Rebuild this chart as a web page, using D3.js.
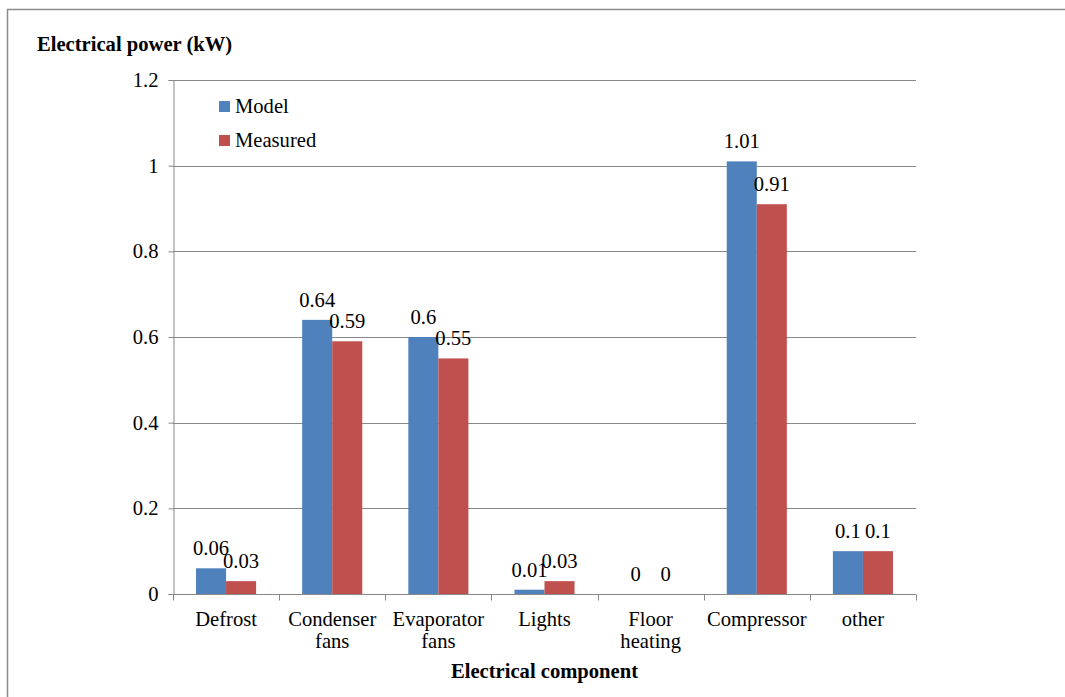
<!DOCTYPE html>
<html><head><meta charset="utf-8">
<script src="https://cdn.jsdelivr.net/npm/d3@7"></script>
<style>body{margin:0;background:#fff}svg{display:block}svg text{font-family:"Liberation Serif","Times New Roman",serif !important}</style>
</head><body>
<script>
const categories = [["Defrost"],["Condenser","fans"],["Evaporator","fans"],["Lights"],["Floor","heating"],["Compressor"],["other"]];
const seriesNames = ["Model","Measured"];
const modelValues = [0.06,0.64,0.6,0.01,0,1.01,0.1];
const measuredValues = [0.03,0.59,0.55,0.03,0,0.91,0.1];
const yTicks = [0,0.2,0.4,0.6,0.8,1,1.2];
const colors = ["#4F81BD","#C0504D"];

const FS=20.6;
const W=1065,H=697;
const svg=d3.select("body").append("svg").attr("width",W).attr("height",H);
// frame
svg.append("path").attr("d","M7.5,697 L7.5,9.5 L1065,9.5").attr("fill","none").attr("stroke","#8c8c8c").attr("stroke-width",1.5);

const L=173,R=916,T=80,B=594;
const x=d3.scaleBand().domain(d3.range(categories.length)).range([L,R]).paddingInner(0.434).paddingOuter(0.217);
const y=d3.scaleLinear().domain([0,1.2]).range([B,T]);
const x1=d3.scaleBand().domain([0,1]).range([0,x.bandwidth()]);

// gridlines
svg.append("g").selectAll("line").data(yTicks.filter(d=>d>0)).join("line")
 .attr("x1",L).attr("x2",R).attr("y1",d=>Math.round(y(d))+0.5).attr("y2",d=>Math.round(y(d))+0.5)
 .attr("stroke","#888").attr("stroke-width",1);

// y axis
const ya=svg.append("g").attr("transform",`translate(${L+0.5},0)`)
 .call(d3.axisLeft(y).tickValues(yTicks).tickSize(5).tickPadding(10).tickFormat(d=>String(+d.toFixed(1))));
ya.attr("font-family",null);
ya.select(".domain").attr("stroke","#888");
ya.selectAll(".tick line").attr("stroke","#888");
ya.selectAll("text").attr("font-size",FS).attr("fill","#000");

// x axis
const step=x.step();
const xb=svg.append("g").attr("transform",`translate(0,${B+0.5})`);
xb.append("line").attr("x1",L).attr("x2",R).attr("stroke","#888");
xb.selectAll("line.t").data(d3.range(categories.length+1)).join("line").attr("class","t")
 .attr("x1",i=>Math.round(L+i*step)+0.5).attr("x2",i=>Math.round(L+i*step)+0.5).attr("y1",0).attr("y2",6).attr("stroke","#888");
const lab=xb.selectAll("text").data(categories).join("text")
 .attr("text-anchor","middle").attr("font-size",FS).attr("fill","#000")
 .attr("x",(d,i)=>x(i)+x.bandwidth()/2).attr("y",31);
lab.selectAll("tspan").data(d=>d).join("tspan")
 .attr("x",function(){return d3.select(this.parentNode).attr("x");})
 .attr("dy",(d,i)=>i===0?0:22).text(d=>d);

// bars
const series=[modelValues,measuredValues];
series.forEach((vals,s)=>{
 const g=svg.append("g");
 g.selectAll("rect").data(vals).join("rect")
  .attr("x",(d,i)=>x(i)+x1(s)).attr("width",x1.bandwidth())
  .attr("y",d=>y(d)).attr("height",d=>B-y(d)).attr("fill",colors[s]);
 g.selectAll("text").data(vals).join("text")
  .attr("x",(d,i)=>x(i)+x1(s)+x1.bandwidth()/2).attr("y",d=>y(d)-13)
  .attr("text-anchor","middle").attr("font-size",FS).attr("fill","#000")
  .text(d=>String(d));
});

// legend
seriesNames.forEach((n,i)=>{
 const g=svg.append("g").attr("transform",`translate(219,${101+i*34})`);
 g.append("rect").attr("width",11).attr("height",11).attr("fill",colors[i]);
 g.append("text").attr("x",16).attr("y",12).attr("font-size",FS).attr("fill","#000").text(n);
});

// titles
svg.append("text").attr("x",37).attr("y",51).attr("font-size",FS).attr("font-weight","bold").text("Electrical power (kW)");
svg.append("text").attr("x",(L+R)/2).attr("y",678).attr("text-anchor","middle").attr("font-size",FS).attr("font-weight","bold").text("Electrical component");
</script>
</body></html>
